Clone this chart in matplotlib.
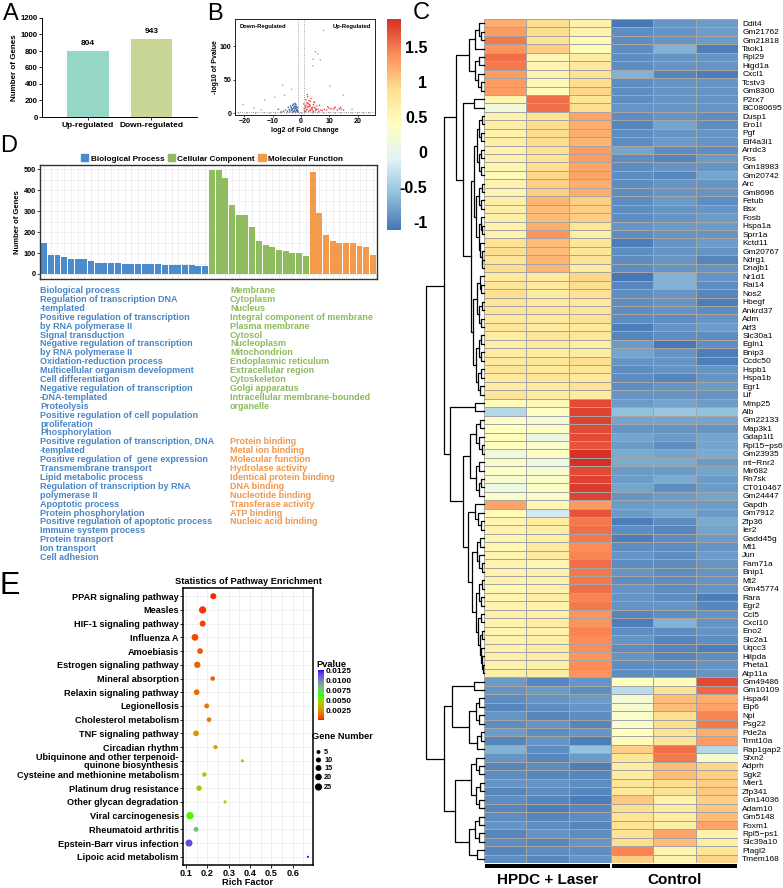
import numpy as np
import matplotlib
matplotlib.use("Agg")
import matplotlib.pyplot as plt
from matplotlib import colors as mcolors
from matplotlib.cm import ScalarMappable
from matplotlib.patches import Patch, Rectangle

plt.rcParams['font.family'] = ['Liberation Sans', 'DejaVu Sans']

# ---------------- data ----------------
# A: DEG counts
deg_groups = ['Up-regulated', 'Down-regulated']
deg_counts = [804, 943]

# B: volcano (log2FC, -log10 p)
down_points = [(-4.8, 3), (-4.2, 6), (-3.9, 2), (-3.5, 9), (-3.2, 4), (-3.0, 12), (-2.8, 7), (-2.6, 3),
               (-2.4, 10), (-2.2, 5), (-2.0, 8), (-1.8, 2), (-1.6, 6), (-1.4, 4), (-1.2, 3), (-4.5, 9),
               (-3.7, 11), (-3.3, 5), (-2.9, 2), (-2.5, 13), (-2.1, 7), (-1.7, 10), (-1.3, 5), (-4.0, 4),
               (-3.4, 7), (-2.7, 14), (-2.3, 3), (-1.9, 11), (-1.5, 8), (-1.1, 2), (-3.1, 6), (-2.0, 15),
               (-1.6, 4), (-5.5, 5), (-6.2, 3), (-8.0, 6), (-7.1, 2), (-1.2, 9), (-1.8, 13), (-2.6, 9)]
up_points = [(1.2, 4), (1.5, 8), (1.8, 12), (2.1, 6), (2.4, 15), (2.7, 3), (3.0, 10), (3.3, 18), (3.6, 7),
             (4.0, 5), (4.4, 13), (4.8, 9), (5.2, 4), (5.6, 11), (6.0, 6), (1.3, 2), (1.7, 20), (2.2, 9),
             (2.6, 14), (3.1, 5), (3.5, 22), (3.9, 8), (4.3, 3), (4.7, 16), (5.1, 7), (1.4, 11), (1.9, 5),
             (2.3, 25), (2.9, 13), (3.4, 4), (4.1, 9), (4.6, 17), (5.4, 6), (6.3, 3), (7.0, 5), (1.1, 7),
             (1.6, 3), (2.5, 10), (3.2, 12), (3.8, 8), (2.0, 16), (2.8, 19), (4.5, 2), (7.5, 4), (8.2, 6),
             (9.0, 5), (9.8, 8), (10.5, 7), (11.3, 6), (12.0, 9), (12.8, 5), (13.5, 7), (14.2, 6), (15.0, 5),
             (9.4, 10), (11.8, 8), (13.9, 9), (1.0, 14), (2.2, 28), (6.5, 12)]
ns_points = [(7.9, 124), (5.1, 92), (5.9, 89), (4.2, 81), (6.8, 80), (4.2, 71), (-6.5, 42), (-3.3, 36),
             (-9.3, 24), (-5.8, 27), (-12.8, 20), (-20.4, 13), (10.2, 41), (14.9, 27), (-16.5, 8),
             (-14, 5), (18, 6), (-22, 0.5), (-19, 0.8), (-16, 0.4), (-13, 0.9), (-11, 0.6), (-9, 0.3),
             (-7, 0.7), (-5, 0.5), (-3, 0.9), (-2, 0.4), (-0.5, 0.6), (0.3, 0.8), (4, 0.3), (6, 0.7),
             (8, 0.5), (10, 0.8), (12, 0.4), (14, 0.6), (16, 0.9), (18, 0.5), (20, 0.7), (22, 0.4), (24, 0.6)]

# C: heatmap
genes = ['Ddit4', 'Gm21762', 'Gm21818', 'Taok1', 'Rpl29', 'Higd1a', 'Cxcl1', 'Tcstv3', 'Gm8300', 'P2rx7',
         'BC080695', 'Dusp1', 'Ero1l', 'Pgf', 'Eif4a3l1', 'Arrdc3', 'Fos', 'Gm18983', 'Gm20742', 'Arc',
         'Gm8696', 'Fetub', 'Bsx', 'Fosb', 'Hspa1a', 'Sprr1a', 'Kctd11', 'Gm20767', 'Ndrg1', 'Dnajb1',
         'Nr1d1', 'Rai14', 'Nos2', 'Hbegf', 'Ankrd37', 'Adm', 'Atf3', 'Slc30a1', 'Egln1', 'Bnip3',
         'Ccdc50', 'Hspb1', 'Hspa1b', 'Egr1', 'Lif', 'Mmp25', 'Alb', 'Gm22133', 'Map3k1', 'Gdap1l1',
         'Rpl15\u2212ps6', 'Gm23935', 'mt\u2212Rnr2', 'Mir682', 'Rn7sk', 'CT010467', 'Gm24447', 'Gapdh', 'Gm7912', 'Zfp36',
         'Ier2', 'Gadd45g', 'Mt1', 'Jun', 'Fam71a', 'Bnip1', 'Mt2', 'Gm45774', 'Rara', 'Egr2',
         'Ccl5', 'Cxcl10', 'Eno2', 'Slc2a1', 'Uqcc3', 'Hilpda', 'Pheta1', 'Atp11a', 'Gm49486', 'Gm10109',
         'Hspa4l', 'Elp6', 'Npl', 'Psg22', 'Pde2a', 'Trmt10a', 'Rap1gap2', 'Sfxn2', 'Adprh', 'Sgk2',
         'Mier1', 'Zfp341', 'Gm14036', 'Adam10', 'Gm5148', 'Foxm1', 'Rpl5\u2212ps1', 'Slc39a10', 'Plagl2', 'Tmem168']
hpdc_1 = [1.20, 1.30, 1.50, 1.35, 1.55, 1.50, 1.30, 1.30, 1.30, 0.55,
          0.15, 0.60, 0.65, 0.60, 0.65, 0.60, 0.60, 0.55, 0.45, 0.60,
          0.55, 0.65, 0.65, 0.65, 0.60, 0.60, 0.85, 0.90, 0.80, 0.90,
          0.75, 0.80, 0.90, 0.80, 0.80, 0.75, 0.80, 0.70, 0.65, 0.70,
          0.75, 0.80, 0.75, 0.70, 0.80, 0.45, -0.40, 0.30, 0.40, 0.45,
          0.40, 0.15, 0.30, 0.35, 0.25, 0.10, 0.30, 1.25, 0.45, 0.55,
          0.60, 0.55, 0.50, 0.55, 0.60, 0.55, 0.60, 0.50, 0.55, 0.60,
          0.65, 0.60, 0.55, 0.60, 0.60, 0.65, 0.60, 0.65, -0.85, -0.90,
          -0.95, -1.00, -0.90, -0.95, -0.85, -1.00, -0.70, -0.90, -1.00, -0.95,
          -0.90, -1.00, -0.95, -1.00, -0.95, -0.90, -1.00, -0.95, -1.00, -0.95]
hpdc_2 = [0.90, 0.90, 0.85, 1.00, 0.50, 0.55, 0.60, 0.50, 0.45, 1.55,
          1.55, 0.85, 0.90, 0.90, 0.90, 0.85, 0.85, 0.90, 0.95, 1.00,
          1.00, 1.15, 1.10, 1.10, 1.20, 1.35, 1.10, 1.10, 1.15, 1.15,
          0.75, 0.75, 0.70, 0.75, 0.80, 0.75, 0.70, 0.80, 0.75, 0.70,
          0.80, 0.75, 0.80, 0.75, 0.70, 0.50, 0.35, 0.20, 0.35, 0.10,
          0.30, 0.35, 0.10, 0.25, 0.30, 0.35, 0.30, 0.50, -0.20, 0.70,
          0.65, 0.65, 0.75, 0.70, 0.55, 0.60, 0.60, 0.60, 0.65, 0.60,
          0.65, 0.70, 0.60, 0.65, 0.70, 0.70, 0.65, 0.70, -1.00, -0.85,
          -0.90, -0.95, -1.00, -0.90, -0.95, -0.90, -0.95, -1.00, -0.95, -1.00,
          -0.90, -0.95, -1.00, -1.05, -1.00, -0.95, -0.90, -1.00, -0.95, -1.00]
hpdc_3 = [0.60, 0.60, 0.45, 0.45, 0.70, 0.75, 0.85, 0.90, 0.95, 0.80,
          0.90, 1.25, 1.20, 1.20, 1.15, 1.30, 1.30, 1.25, 1.25, 1.20,
          1.20, 1.00, 1.00, 1.00, 0.80, 0.65, 0.80, 0.80, 0.85, 0.70,
          0.95, 0.90, 0.85, 0.75, 0.80, 0.85, 0.75, 0.80, 0.65, 0.70,
          0.90, 0.80, 0.75, 0.85, 0.70, 1.75, 1.80, 1.80, 1.75, 1.75,
          1.70, 1.90, 1.90, 1.75, 1.80, 1.85, 1.80, 1.30, 1.70, 1.50,
          1.55, 1.50, 1.40, 1.45, 1.55, 1.50, 1.50, 1.55, 1.45, 1.50,
          1.35, 1.35, 1.45, 1.40, 1.40, 1.35, 1.40, 1.35, -0.90, -0.95,
          -0.85, -0.90, -0.95, -1.00, -0.90, -1.05, -0.60, -0.85, -1.05, -1.00,
          -0.95, -1.00, -1.05, -1.00, -0.95, -1.00, -0.95, -0.90, -0.95, -0.90]
ctrl_1 = [-1.10, -0.95, -0.95, -0.95, -0.95, -0.95, -0.70, -0.95, -0.95, -0.95,
          -0.90, -0.95, -1.00, -0.95, -0.95, -0.80, -0.95, -0.95, -0.95, -0.95,
          -0.95, -0.95, -0.95, -0.95, -0.90, -0.95, -1.05, -0.95, -0.95, -0.95,
          -1.10, -1.00, -0.95, -0.95, -0.95, -0.95, -1.05, -1.00, -0.85, -0.80,
          -0.90, -0.95, -0.95, -0.95, -0.90, -0.85, -0.60, -0.80, -0.90, -0.80,
          -0.85, -0.75, -0.75, -0.85, -0.85, -0.80, -0.90, -0.85, -0.85, -1.05,
          -0.95, -1.05, -0.95, -0.90, -0.95, -0.90, -0.95, -0.90, -0.90, -0.90,
          -1.00, -1.05, -0.95, -0.90, -0.95, -0.90, -0.95, -0.95, 0.40, -0.35,
          0.20, 0.25, 0.30, 0.30, 0.40, 0.45, 1.00, 0.80, 0.70, 0.70,
          0.80, 0.75, 1.05, 0.90, 0.85, 0.85, 0.85, 0.90, 1.45, 1.00]
ctrl_2 = [-0.90, -0.90, -0.90, -0.70, -0.90, -0.90, -1.00, -0.90, -0.90, -0.90,
          -0.90, -0.90, -0.80, -0.90, -0.85, -0.95, -1.00, -0.90, -1.00, -0.90,
          -0.90, -0.85, -0.90, -0.90, -0.85, -0.90, -0.90, -0.90, -0.90, -0.90,
          -0.70, -0.70, -0.90, -0.90, -0.90, -0.95, -0.90, -0.95, -1.10, -0.90,
          -0.90, -0.90, -1.00, -0.90, -0.90, -0.80, -0.55, -0.80, -0.90, -0.85,
          -0.95, -0.80, -0.75, -0.85, -0.75, -0.95, -0.85, -0.85, -0.80, -0.95,
          -1.00, -0.95, -0.95, -0.95, -0.95, -0.95, -0.95, -0.95, -0.95, -0.90,
          -0.95, -0.70, -0.95, -1.00, -1.00, -1.00, -0.95, -0.95, 0.45, 0.85,
          1.10, 1.10, 0.90, 0.90, 0.85, 0.80, 1.55, 1.50, 1.10, 1.10,
          0.90, 0.85, 0.60, 0.70, 0.70, 0.65, 1.25, 1.10, 0.55, 0.60]
ctrl_3 = [-0.85, -0.85, -0.85, -1.05, -0.90, -0.90, -1.05, -0.90, -0.90, -0.90,
          -0.90, -0.95, -0.95, -0.90, -0.90, -0.95, -0.85, -0.90, -0.80, -0.90,
          -0.90, -0.95, -0.90, -0.85, -0.85, -0.90, -0.85, -0.90, -1.00, -0.90,
          -0.90, -0.95, -1.00, -1.05, -0.95, -0.90, -0.85, -0.95, -0.95, -1.05,
          -1.05, -0.90, -0.90, -0.85, -0.90, -0.85, -0.60, -0.80, -0.90, -0.80,
          -0.80, -0.75, -0.85, -0.80, -0.85, -0.85, -0.80, -0.85, -0.85, -0.75,
          -0.80, -0.85, -0.90, -0.85, -0.90, -0.90, -0.90, -0.90, -1.05, -1.00,
          -0.90, -0.90, -0.90, -0.95, -1.05, -0.95, -0.90, -0.90, 1.75, 1.60,
          1.20, 1.25, 1.45, 1.50, 1.20, 1.30, -0.40, 0.25, 0.95, 1.00,
          1.00, 1.05, 1.00, 1.05, 1.10, 1.25, 0.60, 0.65, 0.80, 0.95]
sample_groups = ['HPDC + Laser', 'Control']

# row dendrogram pieces: (height, left, right), leaves are row indices
clade_a = (2.6, (1.5, (0.9, 0, (0.5, 1, 2)), 3), (1.6, (0.8, 4, 5), (1.0, 6, (0.5, 7, 8))))
clade_r1 = (1.8, (1.2, (0.8, (0.4, 11, 12), (0.5, 13, 14)), (0.9, (0.5, 15, 16), (0.6, 17, 18))),
            (1.3, (0.8, (0.4, 19, 20), (0.6, 21, 22)),
             (0.9, (0.5, 23, (0.3, 24, 25)), (0.7, 26, (0.4, 27, (0.3, 28, 29))))))
clade_r2 = (1.9, (1.2, (0.7, 30, (0.5, 31, 32)), (0.8, (0.4, 33, 34), (0.6, 35, 36))),
            (1.4, (0.8, (0.5, 37, 38), (0.6, 39, 40)), (1.0, (0.6, 41, 42), (0.7, 43, 44))))
clade_s1 = (2.4, (1.3, (0.7, 47, 48), (0.8, 49, (0.4, 50, 51))), (1.4, (0.8, 52, 53), (0.9, (0.5, 54, 55), 56)))
clade_s2 = (2.8, (1.6, 57, (1.0, 58, (0.6, 59, 60))),
            (2.0, (1.2, (0.7, 61, 62), (0.8, 63, (0.4, 64, 65))),
             (1.3, (0.8, (0.4, 66, 67), (0.5, 68, 69)),
              (1.0, (0.6, 70, 71), (0.7, (0.4, 72, 73), (0.5, 74, (0.3, 75, (0.2, 76, 77))))))))
clade_bu = (5.5, (1.8, 78, 79), (2.6, (1.4, (0.8, 80, 81), (0.9, 82, 83)), (1.2, (0.6, 84, 85), 86)))
clade_bl = (5.0, (2.2, (1.3, 87, (0.8, 88, 89)), (1.4, (0.7, 90, 91), (0.9, 92, 93))),
            (2.6, (1.5, (0.8, 94, 95), (0.9, 96, 97)), (1.2, 98, 99)))
tree_top = (6.9, (4.8, clade_a, (3.6, (1.7, 9, 10), (2.3, clade_r1, clade_r2))),
            (5.9, (1.6, 45, 46), (3.6, clade_s1, clade_s2)))
gene_tree = (10.0, tree_top, (6.9, clade_bu, clade_bl))

# D: GO terms
go_categories = ['Biological Process', 'Cellular Component', 'Molecular Function']
bp_counts = [148, 92, 92, 80, 73, 72, 72, 64, 54, 53, 52, 51, 50, 50, 49, 48, 47, 46, 45, 44, 43, 42, 41, 40, 38]
cc_counts = [498, 498, 461, 331, 283, 283, 223, 156, 137, 127, 116, 108, 100, 100, 87]
mf_counts = [487, 291, 188, 156, 148, 148, 148, 132, 130, 92]
bp_terms = ['Biological process', 'Regulation of transcription DNA\n-templated',
            'Positive regulation of transcription\nby RNA polymerase II', 'Signal transduction',
            'Negative regulation of transcription\nby RNA polymerase II', 'Oxidation-reduction process',
            'Multicellular organism development', 'Cell differentiation',
            'Negative regulation of transcription\n-DNA-templated', 'Proteolysis',
            'Positive regulation of cell population\nproliferation', 'Phosphorylation',
            'Positive regulation of transcription, DNA\n-templated', 'Positive regulation of  gene expression',
            'Transmembrane transport', 'Lipid metabolic process',
            'Regulation of transcription by RNA\npolymerase II', 'Apoptotic process', 'Protein phosphorylation',
            'Positive regulation of apoptotic process', 'Immune system process', 'Protein transport',
            'Ion transport', 'Cell adhesion']
cc_terms = ['Membrane', 'Cytoplasm', 'Nucleus', 'Integral component of membrane', 'Plasma membrane', 'Cytosol',
            'Nucleoplasm', 'Mitochondrion', 'Endoplasmic reticulum', 'Extracellular region', 'Cytoskeleton',
            'Golgi apparatus', 'Intracellular membrane-bounded\norganelle']
mf_terms = ['Protein binding', 'Metal ion binding', 'Molecular function', 'Hydrolase activity',
            'Identical protein binding', 'DNA binding', 'Nucleotide binding', 'Transferase activity',
            'ATP binding', 'Nucleic acid binding']

# E: KEGG enrichment
pathways = ['PPAR signaling pathway', 'Measles', 'HIF-1 signaling pathway', 'Influenza A', 'Amoebiasis',
            'Estrogen signaling pathway', 'Mineral absorption', 'Relaxin signaling pathway', 'Legionellosis',
            'Cholesterol metabolism', 'TNF signaling pathway', 'Circadian rhythm',
            'Ubiquinone and other terpenoid-\nquinone biosynthesis', 'Cysteine and methionine metabolism',
            'Platinum drug resistance', 'Other glycan degradation', 'Viral carcinogenesis',
            'Rheumatoid arthritis', 'Epstein-Barr virus infection', 'Lipoic acid metabolism']
rich_factor = [0.228, 0.178, 0.178, 0.142, 0.166, 0.153, 0.225, 0.150, 0.197, 0.208,
               0.147, 0.238, 0.364, 0.186, 0.161, 0.283, 0.119, 0.147, 0.114, 0.671]
gene_number = [16, 26, 16, 22, 14, 18, 8, 14, 9, 8, 14, 6, 3, 7, 12, 3, 26, 9, 24, 2]
pvalue = [0.0002, 0.0003, 0.0005, 0.0006, 0.0009, 0.0010, 0.0011, 0.0013, 0.0016, 0.0017,
          0.0025, 0.0030, 0.0042, 0.0039, 0.0041, 0.0050, 0.0060, 0.0082, 0.0114, 0.0126]
size_legend = [5, 10, 15, 20, 25]

# ---------------- helpers ----------------
W, H = 783, 888
fig = plt.figure(figsize=(W / 100, H / 100), dpi=100)


def box(x0, y0, x1, y1):
    return fig.add_axes([x0 / W, 1 - y1 / H, (x1 - x0) / W, (y1 - y0) / H])


def ftext(x, y, s, **kw):
    fig.text(x / W, 1 - y / H, s, **kw)


def _lin(c):
    c = np.asarray(c)
    return np.where(c <= 0.04045, c / 12.92, ((c + 0.055) / 1.055) ** 2.4)


M_XYZ = np.array([[0.4124, 0.3576, 0.1805], [0.2126, 0.7152, 0.0722], [0.0193, 0.1192, 0.9505]])
WHITE = np.array([0.95047, 1.0, 1.08883])


def to_lab(hexc):
    xyz = M_XYZ @ _lin(mcolors.to_rgb(hexc)) / WHITE
    f = np.where(xyz > 0.008856, np.cbrt(xyz), 7.787 * xyz + 16 / 116)
    return np.array([116 * f[1] - 16, 500 * (f[0] - f[1]), 200 * (f[1] - f[2])])


def from_lab(lab):
    fy = (lab[0] + 16) / 116
    f = np.array([fy + lab[1] / 500, fy, fy - lab[2] / 200])
    xyz = np.where(f ** 3 > 0.008856, f ** 3, (f - 16 / 116) / 7.787) * WHITE
    rgb = np.linalg.solve(M_XYZ, xyz)
    rgb = np.where(rgb <= 0.0031308, 12.92 * rgb, 1.055 * np.clip(rgb, 0, None) ** (1 / 2.4) - 0.055)
    return np.clip(rgb, 0, 1)


def lab_cmap(hexes, n=256):
    labs = [to_lab(h) for h in hexes]
    out = []
    for t in np.linspace(0, 1, n):
        k = min(int(t * (len(labs) - 1)), len(labs) - 2)
        u = t * (len(labs) - 1) - k
        out.append(from_lab(labs[k] * (1 - u) + labs[k + 1] * u))
    return mcolors.ListedColormap(out)


bold = dict(fontweight='bold')

# ---------------- A ----------------
axA = box(42, 18, 197, 117)
xa = np.arange(len(deg_counts))
axA.bar(xa, deg_counts, width=0.66, color=['#94d7c6', '#c8d795'])
for i, v in zip(xa, deg_counts):
    axA.text(i, v + 45, str(v), ha='center', va='bottom', fontsize=6, **bold)
axA.set_xlim(-0.724, 1.717)
axA.set_ylim(0, 1200)
axA.set_yticks(range(0, 1201, 200))
axA.set_xticks(xa)
axA.set_xticklabels(deg_groups, fontsize=6, **bold)
axA.tick_params(axis='y', labelsize=5.6, length=2, width=0.6, pad=1)
axA.tick_params(axis='x', length=2, width=0.6, pad=1.5)
for t in axA.get_yticklabels():
    t.set_fontweight('bold')
axA.spines[['top', 'right']].set_visible(False)
for s in ['left', 'bottom']:
    axA.spines[s].set_linewidth(0.7)
axA.set_ylabel('Number of Genes', fontsize=5.8, labelpad=2, **bold)
ftext(3, 14, 'A', fontsize=17, va='center')

# ---------------- B ----------------
axB = box(235, 19, 375, 115)
for pts, col in [(ns_points, '#aaaaaa'), (down_points, '#3a6fb7'), (up_points, '#e8474f')]:
    arr = np.array(pts)
    axB.scatter(arr[:, 0], arr[:, 1], s=1.3, color=col, edgecolors='none')
for xv in (-1, 1):
    axB.axvline(xv, color='#888888', lw=0.6, ls=':')
axB.axhline(1.3, color='#888888', lw=0.6, ls=':')
axB.set_xlim(-23.3, 26.1)
axB.set_ylim(-2.5, 141)
axB.set_xticks([-20, -10, 0, 10, 20])
axB.set_yticks([0, 50, 100])
axB.tick_params(labelsize=5, length=1.5, width=0.5, pad=1)
for t in axB.get_xticklabels() + axB.get_yticklabels():
    t.set_fontweight('bold')
for s in axB.spines.values():
    s.set_linewidth(0.6)
axB.text(0.03, 0.95, 'Down-Regulated', transform=axB.transAxes, fontsize=4.2, va='top', **bold)
axB.text(0.97, 0.95, 'Up-Regulated', transform=axB.transAxes, fontsize=4.2, va='top', ha='right', **bold)
axB.set_xlabel('log2 of Fold Change', fontsize=5, labelpad=1, **bold)
axB.set_ylabel('-log10 of Pvalue', fontsize=5, labelpad=1, **bold)
ftext(207, 14, 'B', fontsize=17, va='center')

# ---------------- C ----------------
heat_cmap = mcolors.LinearSegmentedColormap.from_list(
    'rdylbu', ['#4575B4', '#91BFDB', '#E0F3F8', '#FFFFBF', '#FEE090', '#FC8D59', '#D73027'])
heat_norm = mcolors.Normalize(-1.12, 1.9)
mat = np.column_stack([hpdc_1, hpdc_2, hpdc_3, ctrl_1, ctrl_2, ctrl_3])

axH = box(484, 19, 738, 863)
axH.pcolormesh(np.arange(mat.shape[1] + 1), np.arange(mat.shape[0] + 1), mat, cmap=heat_cmap,
               norm=heat_norm, edgecolors='#a5a5a5', linewidth=0.5)
axH.set_xlim(0, mat.shape[1])
axH.set_ylim(mat.shape[0], 0)
axH.set_xticks([])
axH.yaxis.tick_right()
axH.set_yticks(np.arange(len(genes)) + 0.5)
axH.set_yticklabels(genes, fontsize=6)
axH.tick_params(axis='y', length=0, pad=3)
for s in axH.spines.values():
    s.set_visible(False)

axT = box(426, 19, 484, 863)


def draw_node(ax, node):
    if isinstance(node, int):
        return 0.0, node + 0.5
    h, a, b = node
    ha_, ya = draw_node(ax, a)
    hb_, yb = draw_node(ax, b)
    ax.plot([ha_, h, h, hb_], [ya, ya, yb, yb], color='black', lw=0.9, clip_on=False)
    return h, (ya + yb) / 2


draw_node(axT, gene_tree)
axT.set_xlim(gene_tree[0], 0)
axT.set_ylim(mat.shape[0], 0)
axT.axis('off')

axG = box(484, 864, 738, 888)
axG.set_xlim(0, 6)
axG.set_ylim(1, 0)
axG.axis('off')
for k, g in enumerate(sample_groups):
    axG.add_patch(Rectangle((3 * k + 0.02, 0), 2.96, 0.17, color='black', lw=0))
    axG.text(3 * k + 1.5, 0.66, g, ha='center', va='center', fontsize=11, **bold)

cax = box(387, 19, 401, 230)
cb = fig.colorbar(ScalarMappable(norm=heat_norm, cmap=heat_cmap), cax=cax)
cb.outline.set_visible(False)
cb.set_ticks([-1, -0.5, 0, 0.5, 1, 1.5])
cb.set_ticklabels(['-1', '-0.5', '0', '0.5', '1', '1.5'])
cax.tick_params(length=0, labelsize=11.5, pad=19)
for t in cax.get_yticklabels():
    t.set_fontweight('bold')
    t.set_horizontalalignment('right')
ftext(413, 13, 'C', fontsize=17, va='center')

# ---------------- D ----------------
go_colors = ['#4a8bcd', '#8fbc5f', '#f39a4c']
axD = box(40, 165, 377, 279)
vals = bp_counts + cc_counts + mf_counts
cols = ([go_colors[0]] * len(bp_counts) + [go_colors[1]] * len(cc_counts) + [go_colors[2]] * len(mf_counts))
xd = np.arange(len(vals))
axD.bar(xd, vals, width=0.88, color=cols, zorder=2)
axD.set_xlim(-0.6, len(vals) - 0.4)
axD.set_ylim(-24, 521)
axD.set_xticks(xd)
axD.set_xticklabels([])
axD.set_yticks(range(0, 501, 100))
axD.set_yticks(range(50, 501, 100), minor=True)
axD.grid(True, which='both', color='#ececec', lw=0.5, zorder=0)
axD.tick_params(axis='x', length=0)
axD.tick_params(axis='y', which='major', labelsize=5.3, length=2, width=0.5, pad=1)
axD.tick_params(axis='y', which='minor', length=0)
for t in axD.get_yticklabels():
    t.set_fontweight('bold')
for s in axD.spines.values():
    s.set_color('#333333')
    s.set_linewidth(1)
axD.set_ylabel('Number of Genes', fontsize=5.5, labelpad=2, **bold)
handles = [Patch(color=c, label=l) for c, l in zip(go_colors, go_categories)]
axD.legend(handles=handles, ncol=3, loc='lower center', bbox_to_anchor=((212 - 40) / 337, 1.0),
           frameon=False, prop={'size': 5.9, 'weight': 'bold'}, handlelength=0.9, handleheight=0.9,
           handletextpad=0.3, columnspacing=0.4, borderaxespad=0.1, borderpad=0.2)
ftext(0, 146, 'D', fontsize=17, va='center')


def draw_terms(terms, x, y0, color):
    line = 0
    for t in terms:
        for part in t.split('\n'):
            ftext(x, y0 + line * 8.9, part, fontsize=6.5, color=color, va='baseline', **bold)
            line += 1


draw_terms(bp_terms, 40, 293, '#4a86c6')
draw_terms(cc_terms, 230, 293, '#8cbb5d')
draw_terms(mf_terms, 230, 293 + 17 * 8.9, '#f0984b')

# ---------------- E ----------------
p_cmap = lab_cmap(['#ff0000', '#00ff00', '#0000ff'])


def dot_size(n):
    d = 2 + 5.3 * np.sqrt((np.asarray(n) - 2) / 24)
    return (d * 0.72) ** 2


axE = box(183, 588, 313, 865)
ye = np.arange(len(pathways))
sc = axE.scatter(rich_factor, ye, s=dot_size(gene_number), c=pvalue, cmap=p_cmap, vmin=0, vmax=0.0126,
                 edgecolors='none', zorder=3)
axE.set_ylim(len(pathways) - 0.4, -0.6)
axE.set_yticks(ye)
axE.set_yticklabels(pathways, fontsize=6.6, linespacing=0.85, **bold)
axE.set_xlim(0.086, 0.695)
axE.set_xticks([0.1, 0.2, 0.3, 0.4, 0.5, 0.6])
axE.set_xticklabels(['0.1', '0.2', '0.3', '0.4', '0.5', '0.6'], fontsize=6.6, **bold)
axE.set_xticks([0.15, 0.25, 0.35, 0.45, 0.55, 0.65], minor=True)
axE.grid(True, which='both', color='#ececec', lw=0.5, zorder=0)
axE.tick_params(which='major', length=2, width=0.6, pad=1)
axE.tick_params(which='minor', length=0)
for s in axE.spines.values():
    s.set_linewidth(1.1)
axE.set_title('Statistics of Pathway Enrichment', fontsize=6.7, pad=3, **bold)
axE.set_xlabel('Rich Factor', fontsize=6.7, labelpad=0, **bold)
ftext(0, 586, 'E', fontsize=22, va='center')

pcax = box(318, 670, 324, 720)
cb2 = fig.colorbar(sc, cax=pcax, ticks=[0.0025, 0.005, 0.0075, 0.01, 0.0125])
cb2.outline.set_visible(False)
cb2.set_ticklabels(['0.0025', '0.0050', '0.0075', '0.0100', '0.0125'])
pcax.tick_params(length=0, labelsize=6, pad=1)
for t in pcax.get_yticklabels():
    t.set_fontweight('bold')
ftext(316, 669, 'Pvalue', fontsize=6.7, va='bottom', **bold)

ftext(312, 741, 'Gene Number', fontsize=6.7, va='bottom', **bold)
axL = box(305, 745, 345, 795)
axL.set_xlim(305, 345)
axL.set_ylim(795, 745)
axL.axis('off')
for n, yv in zip(size_legend, [752, 760, 768, 777, 787]):
    axL.scatter([318.5], [yv], s=dot_size(n), color='black', edgecolors='none', clip_on=False)
    axL.text(324, yv, str(n), fontsize=5.2, va='center', **bold)

fig.savefig('out.png', dpi=100)
